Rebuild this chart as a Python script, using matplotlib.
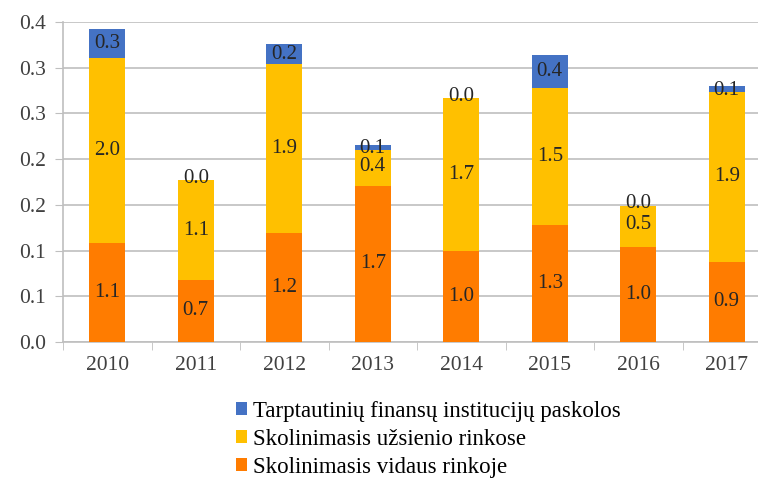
import matplotlib
matplotlib.use("Agg")
import matplotlib.pyplot as plt
import numpy as np

plt.rcParams["font.family"] = ["Liberation Serif", "DejaVu Serif"]

years = ["2010", "2011", "2012", "2013", "2014", "2015", "2016", "2017"]
vidaus = [1.08, 0.68, 1.19, 1.71, 1.0, 1.28, 1.04, 0.88]
uzsienio = [2.03, 1.09, 1.85, 0.39, 1.67, 1.5, 0.45, 1.85]
institucijos = [0.31, 0.0, 0.22, 0.06, 0.0, 0.36, 0.0, 0.07]
vidaus_lbl = ["1.1", "0.7", "1.2", "1.7", "1.0", "1.3", "1.0", "0.9"]
uzsienio_lbl = ["2.0", "1.1", "1.9", "0.4", "1.7", "1.5", "0.5", "1.9"]
inst_lbl = ["0.3", "0.0", "0.2", "0.1", "0.0", "0.4", "0.0", "0.1"]
ytick_lbl = ["0.0", "0.1", "0.1", "0.2", "0.2", "0.3", "0.3", "0.4"]

c_blue, c_yel, c_org = "#4472C4", "#FFC000", "#FF7C00"

fig = plt.figure(figsize=(7.58, 4.78), dpi=100)
ax = fig.add_axes([63 / 758, 1 - 342 / 478, 708 / 758, 320 / 478])

x = np.arange(len(years))
w = 0.41
v = np.array(vidaus)
u = np.array(uzsienio)
t = np.array(institucijos)
b1 = ax.bar(x, v, w, color=c_org, zorder=3, label="Skolinimasis vidaus rinkoje")
b2 = ax.bar(x, u, w, bottom=v, color=c_yel, zorder=3, label="Skolinimasis užsienio rinkose")
b3 = ax.bar(x, t, w, bottom=v + u, color=c_blue, zorder=3,
            label="Tarptautinių finansų institucijų paskolos")

fs = 15.5
lfs = 15
for i in range(len(years)):
    ax.text(x[i], v[i] / 2, vidaus_lbl[i], ha="center", va="center", fontsize=lfs, color="#262626", zorder=4)
    uy = v[i] + u[i] / 2
    if u[i] < 0.6:
        uy = v[i] + u[i] / 2 + 0.02
    ax.text(x[i], uy, uzsienio_lbl[i], ha="center", va="center", fontsize=lfs, color="#262626", zorder=4)
    ty = v[i] + u[i] + t[i] / 2
    if t[i] < 0.1:
        ty = v[i] + u[i] + 0.02
    ax.text(x[i], ty, inst_lbl[i], ha="center", va="center", fontsize=lfs, color="#262626", zorder=4)

ax.set_xlim(-0.5, len(years) - 0.5)
ax.set_ylim(0, 3.5)
ax.set_yticks(np.arange(0, 3.51, 0.5))
ax.set_yticklabels(ytick_lbl)
ax.set_xticks(x)
ax.set_xticklabels(years)
ax.set_xticks(np.arange(-0.5, len(years), 1), minor=True)
ax.tick_params(axis="x", which="major", length=0, pad=10, labelsize=fs, colors="#404040")
ax.tick_params(axis="x", which="minor", length=6, color="#BFBFBF")
ax.tick_params(axis="y", length=6, color="#BFBFBF", labelsize=fs, labelcolor="#404040", pad=6)
ax.grid(axis="y", color="#BFBFBF", linewidth=1.2, zorder=0)
for s in ["top", "right"]:
    ax.spines[s].set_visible(False)
for s in ["left", "bottom"]:
    ax.spines[s].set_color("#BFBFBF")
    ax.spines[s].set_linewidth(1.2)

fig.legend(handles=[b3, b2, b1], loc="upper left", bbox_to_anchor=(236 / 758, 1 - 401 / 478),
           frameon=False, fontsize=16.5, handlelength=0.5, handleheight=0.5, handletextpad=0.25,
           labelspacing=0.3, borderaxespad=0, borderpad=0)

fig.savefig("out.png", dpi=100)
